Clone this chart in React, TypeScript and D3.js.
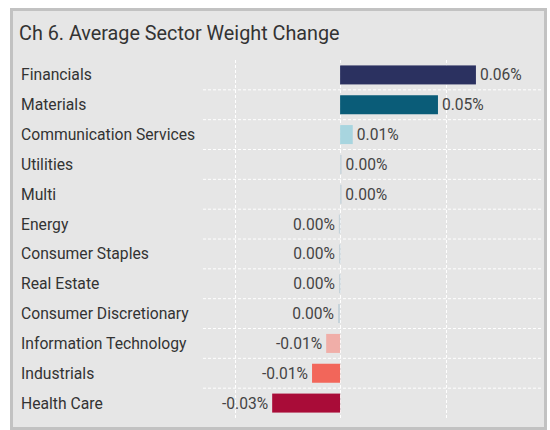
import React from "react";
import * as d3 from "d3";

const categories = [
  "Financials",
  "Materials",
  "Communication Services",
  "Utilities",
  "Multi",
  "Energy",
  "Consumer Staples",
  "Real Estate",
  "Consumer Discretionary",
  "Information Technology",
  "Industrials",
  "Health Care",
];
const values = [0.0644, 0.0464, 0.006, 0.0007, 0.0006, -0.0006, -0.0005, -0.0005, -0.001, -0.0066, -0.0133, -0.0322];
const labels = ["0.06%", "0.05%", "0.01%", "0.00%", "0.00%", "0.00%", "0.00%", "0.00%", "0.00%", "-0.01%", "-0.01%", "-0.03%"];
const colors = ["#2b3160", "#0a5c78", "#a8d5df", "#c6d3da", "#c6d3da", "#c6d3da", "#c6d3da", "#c6d3da", "#c6d3da", "#f0aea8", "#f2665a", "#a90c38"];
const gridTicks = [-0.05, 0, 0.05];
const title = "Ch 6. Average Sector Weight Change";

const W = 550;
const H = 430;
const FONT = "Roboto, sans-serif";

export default function App() {
  const x = d3.scaleLinear().domain([-0.065, 0.0962]).range([203, 543]);
  const rowStart = 60;
  const rowH = (418 - 60) / categories.length;

  return (
    <svg width={W} height={H} style={{ position: "absolute", left: 0, top: 0 }}>
      <rect x={11.5} y={9.5} width={534} height={419} fill="#e6e6e6" stroke="#c2c2c2" strokeWidth={3} />
      <text x={19} y={40} fontFamily={FONT} fontSize={19.8} fill="#333">{title}</text>
      {categories.slice(1).map((c, i) => (
        <line key={"h" + i} x1={203} x2={543} y1={rowStart + rowH * (i + 1)} y2={rowStart + rowH * (i + 1)}
          stroke="#fff" strokeWidth={1} strokeDasharray="3,2" />
      ))}
      {gridTicks.map((t) => (
        <line key={"v" + t} x1={Math.round(x(t)) + 0.5} x2={Math.round(x(t)) + 0.5} y1={60} y2={418}
          stroke="#fff" strokeWidth={1} strokeDasharray="3,2" />
      ))}
      {categories.map((c, i) => {
        const v = values[i];
        const x0 = x(0);
        const x1 = x(v);
        const yc = rowStart + rowH * (i + 0.5);
        const barH = 19;
        return (
          <g key={c}>
            <text x={21} y={yc} dy="0.35em" fontFamily={FONT} fontSize={15.7} fill="#333">{c}</text>
            <rect x={Math.min(x0, x1)} y={yc - barH / 2} width={Math.max(1.5, Math.abs(x1 - x0))} height={barH} fill={colors[i]} />
            <text x={v >= 0 ? Math.max(x0, x1) + 4 : Math.min(x0, x1) - 4} y={yc} dy="0.35em"
              textAnchor={v >= 0 ? "start" : "end"} fontFamily={FONT} fontSize={15.6} fill="#444">{labels[i]}</text>
          </g>
        );
      })}
    </svg>
  );
}
